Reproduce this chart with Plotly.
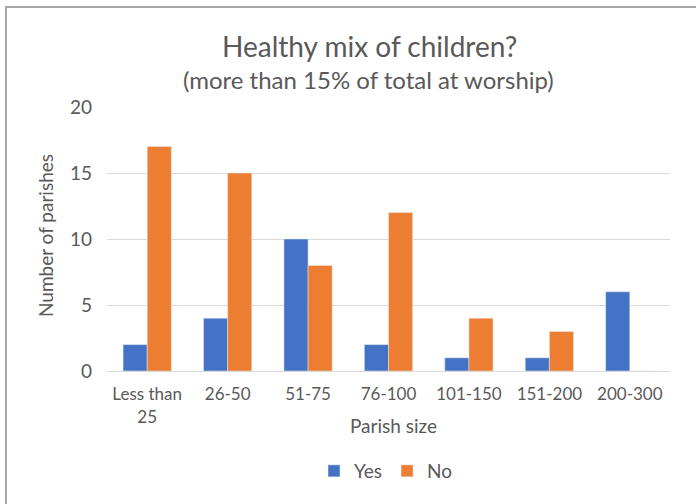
import plotly.graph_objects as go

# Parish size bands and counts of parishes with / without a healthy mix of children
sizes = ["Less than<br>25", "26-50", "51-75", "76-100", "101-150", "151-200", "200-300"]
yes_counts = [2, 4, 10, 2, 1, 1, 6]
no_counts = [17, 15, 8, 12, 4, 3, 0]

FONT = "Lato, 'Open Sans', sans-serif"
GREY = "#595959"

fig = go.Figure()
fig.add_trace(go.Bar(name="Yes", x=sizes, y=yes_counts, marker_color="#4472C4"))
fig.add_trace(go.Bar(name="No", x=sizes, y=no_counts, marker_color="#ED7D31"))

W, H = 696, 504
L, R, T, B = 107, 26, 107, 133
pw, ph = W - L - R, H - T - B


def px_x(x):
    return (x - L) / pw


def px_y(y):
    return (H - B - y) / ph


def label(text, x, y, size, angle=0):
    return dict(text=text, x=px_x(x), y=px_y(y), xref="paper", yref="paper",
                xanchor="center", yanchor="middle", showarrow=False,
                textangle=angle, font=dict(size=size, color=GREY, family=FONT))


fig.update_layout(
    width=W, height=H,
    margin=dict(l=L, r=R, t=T, b=B),
    paper_bgcolor="white", plot_bgcolor="white",
    barmode="group", bargap=0.4, bargroupgap=0,
    font=dict(family=FONT, color=GREY, size=18),
    showlegend=True,
    legend=dict(orientation="h", x=px_x(386), xanchor="center",
                y=px_y(471), yanchor="middle",
                font=dict(size=19, color=GREY), itemwidth=30,
                traceorder="normal"),
    annotations=[
        label("Healthy mix of children?", 369, 46, 28),
        label("(more than 15% of total at worship)", 368, 79, 24),
        label("Parish size", 393, 425, 19),
        label("Number of parishes", 45, 236, 19, angle=-90),
    ],
    shapes=[
        dict(type="line", xref="paper", yref="paper",
             x0=px_x(6), x1=px_x(6), y0=px_y(7), y1=px_y(H + 5),
             line=dict(color="#a6a6a6", width=2)),
        dict(type="line", xref="paper", yref="paper",
             x0=px_x(5), x1=px_x(W + 5), y0=px_y(7), y1=px_y(7),
             line=dict(color="#a6a6a6", width=2)),
    ],
)

fig.update_yaxes(range=[0, 20], dtick=5, showgrid=True, gridcolor="#d9d9d9",
                 gridwidth=1, zeroline=False, showline=False, ticks="",
                 ticklabelstandoff=14,
                 tickfont=dict(size=19, color=GREY))
fig.update_xaxes(showline=True, linecolor="#d9d9d9", linewidth=1, ticks="",
                 ticklabelstandoff=8,
                 tickfont=dict(size=17, color=GREY))

fig.write_html("out.html")
